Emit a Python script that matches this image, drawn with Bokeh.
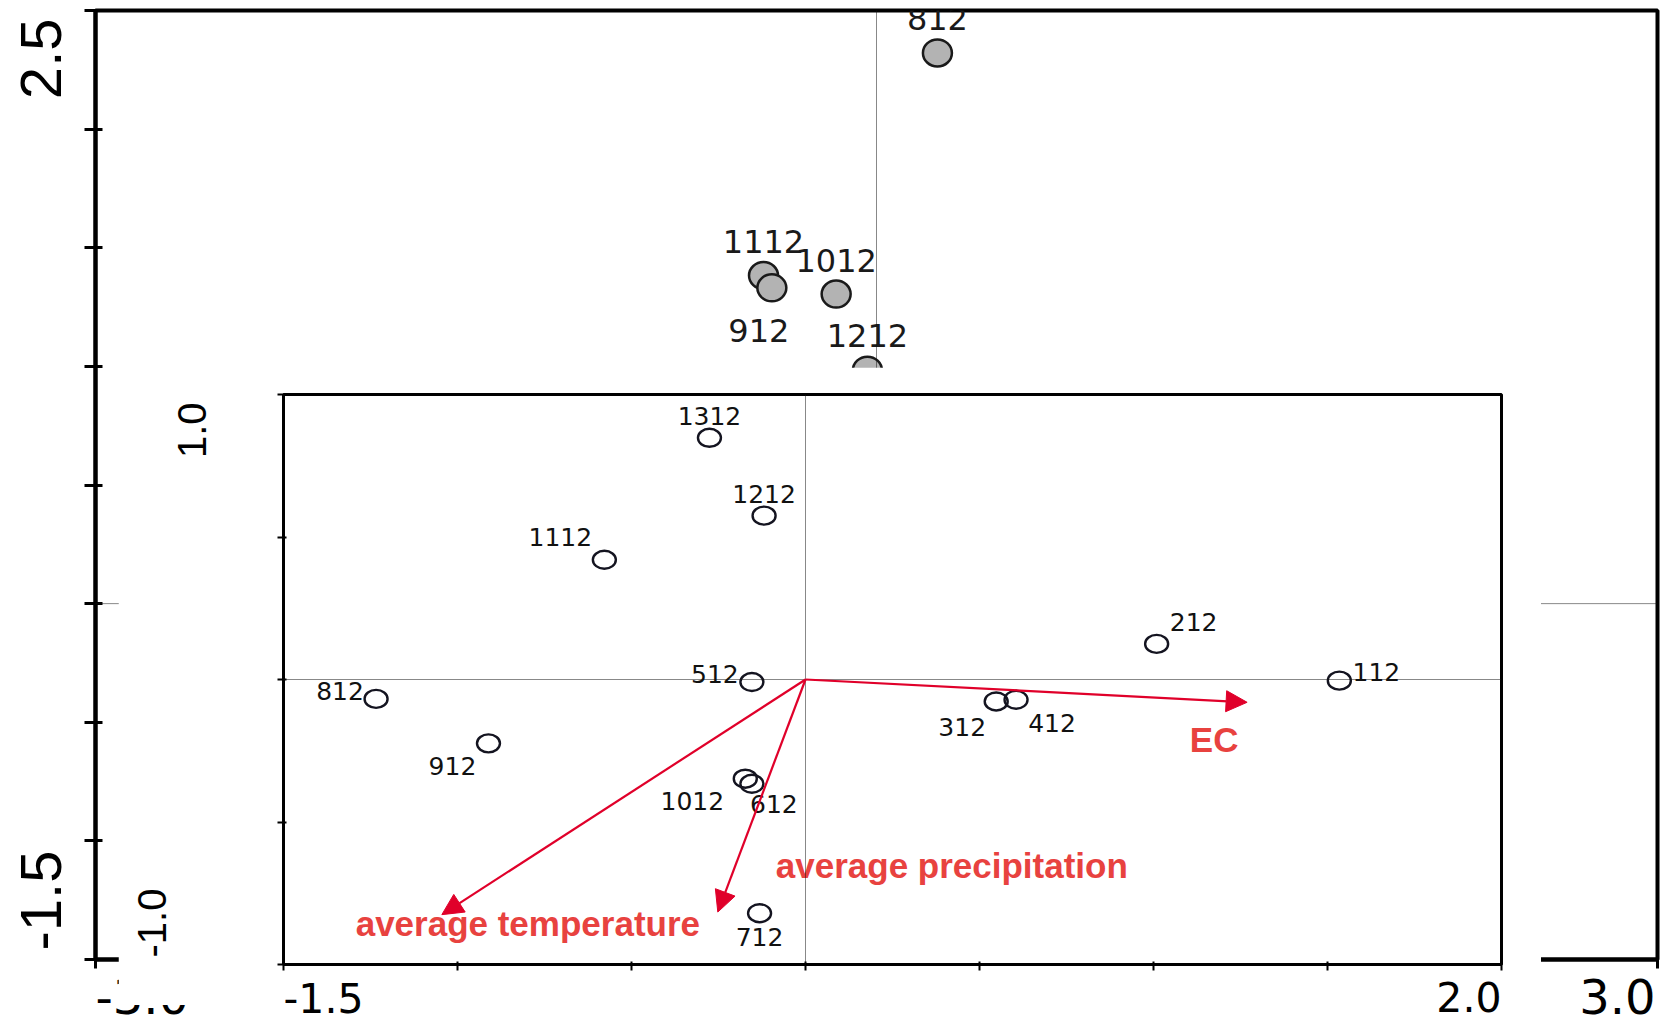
import math
from bokeh.plotting import figure
from bokeh.models import (Range1d, FixedTicker, Span, Arrow, NormalHead,
                          ColumnDataSource, CustomJSTickFormatter)
from bokeh.core.properties import value
from bokeh.embed import file_html
from bokeh.resources import INLINE

# ---------------- data: main ordination (filled symbols) ----------------
outer_labels = ["812", "1112", "912", "1012", "1212"]
outer_x = [0.234, -0.434, -0.402, -0.155, -0.035]
outer_y = [2.321, 1.383, 1.331, 1.305, 0.984]

outer_x_ticks = [-3.0, -2.5, -2.0, -1.5, -1.0, -0.5, 0.0, 0.5, 1.0, 1.5, 2.0, 2.5, 3.0]
outer_y_ticks = [-1.5, -1.0, -0.5, 0.0, 0.5, 1.0, 1.5, 2.0, 2.5]
outer_x_ticklabels = ["-3.0", "3.0"]
outer_y_ticklabels = ["-1.5", "2.5"]

# ---------------- data: inset ordination (open symbols + arrows) ----------------
inner_labels = ["112", "212", "312", "412", "512", "612", "712",
                "812", "912", "1012", "1112", "1212", "1312"]
inner_x = [1.534, 1.009, 0.548, 0.605, -0.154, -0.154, -0.132,
           -1.234, -0.911, -0.173, -0.578, -0.119, -0.276]
inner_y = [-0.004, 0.125, -0.077, -0.071, -0.009, -0.366, -0.820,
           -0.068, -0.224, -0.348, 0.420, 0.575, 0.848]

env_names = ["EC", "average temperature", "average precipitation"]
env_x = [1.269, -1.045, -0.252]
env_y = [-0.080, -0.825, -0.816]

inner_x_ticks = [-1.5, -1.0, -0.5, 0.0, 0.5, 1.0, 1.5, 2.0]
inner_y_ticks = [-1.0, -0.5, 0.0, 0.5, 1.0]
inner_x_ticklabels = ["-1.5", "2.0"]
inner_y_ticklabels = ["-1.0", "1.0"]

# ---------------- label placement (screen px, y down) ----------------
outer_dx = [0, 0, -13, 0, 0]
outer_dy = [-34, -34, 43, -34, -35]
inner_dx = [37, 37, -34, 36, -37, 22, 0, -36, -36, -53, -44, 0, 0]
inner_dy = [-9, -22, 26, 23, -8, 20, 24, -8, 23, 22, -23, -22, -22]
env_dx = [-33, 86, 234]
env_dy = [37, 9, -47]

# ---------------- geometry of the two panels (page pixels) ----------------
PAGE_W, PAGE_H = 1669, 1025
O_L, O_R, O_T, O_B = 95, 1657, 10, 959          # main frame edges
I_X0, I_Y0, I_W, I_H = 118, 367, 1423, 638      # inset (white box) placement
I_L, I_R, I_T, I_B = 165, 40, 27, 41            # inset borders around its frame

BLANK = CustomJSTickFormatter(code="return ''")
RED_ARROW = "#e0002a"
RED_TEXT = "#e8423f"
DOT = "#111111"


def style_axes(fig, ticks_x, ticks_y, lw, tw, t_in, t_out):
    fig.xaxis.ticker = FixedTicker(ticks=ticks_x)
    fig.yaxis.ticker = FixedTicker(ticks=ticks_y)
    for ax in (fig.xaxis[0], fig.yaxis[0]):
        ax.formatter = BLANK
        ax.axis_line_color = "black"
        ax.axis_line_width = lw
        ax.major_tick_line_color = "black"
        ax.major_tick_line_width = tw
        ax.major_tick_in = t_in
        ax.major_tick_out = t_out
        ax.minor_tick_line_color = None


def overlay(xr, yr, w, h, left, top):
    """transparent full-canvas figure sharing the data mapping of a panel"""
    f = figure(width=w, height=h, title=None, x_range=xr, y_range=yr,
               x_axis_type=None, y_axis_type=None, output_backend="svg",
               toolbar_location=None, min_border=0,
               styles={"position": "absolute", "left": f"{left}px", "top": f"{top}px"})
    f.outline_line_color = None
    f.background_fill_color = None
    f.border_fill_color = None
    return f


# ======================= main plot =======================
p = figure(width=PAGE_W, height=PAGE_H, title=None,
           x_range=Range1d(-3.0, 3.0), y_range=Range1d(-1.5, 2.5),
           output_backend="svg", toolbar_location=None,
           min_border_left=O_L, min_border_right=PAGE_W - O_R,
           min_border_top=O_T, min_border_bottom=PAGE_H - O_B,
           styles={"position": "absolute", "left": "0px", "top": "0px"})
p.grid.visible = False
p.outline_line_color = "black"
p.outline_line_width = 4
style_axes(p, outer_x_ticks, outer_y_ticks, 4, 3, 7, 11)
p.xaxis.major_tick_out = 9

p.add_layout(Span(location=0, dimension="height", line_color=DOT, line_width=1, line_dash="1 1"))
p.add_layout(Span(location=0, dimension="width", line_color=DOT, line_width=1, line_dash="1 1"))

osrc = ColumnDataSource(dict(x=outer_x, y=outer_y, t=outer_labels, dx=outer_dx, dy=outer_dy))
p.ellipse(x="x", y="y", width=29, height=27, width_units="screen", height_units="screen",
          fill_color="#b3b3b3", line_color="#1a1a1a", line_width=2.5, source=osrc)
p.text(x="x", y="y", text="t", x_offset="dx", y_offset="dy", source=osrc,
       text_align="center", text_baseline="middle",
       text_font=value("DejaVu Sans"), text_font_size="32px", text_color="#1a1a1a")

# end-of-axis labels of the main plot (overlay with the same data mapping)
kx = (O_R - O_L) / 6.0
ky = (O_B - O_T) / 4.0
pl = overlay(Range1d(-3.0 - O_L / kx, 3.0 + (PAGE_W - O_R) / kx),
             Range1d(-1.5 - (PAGE_H - O_B) / ky, 2.5 + O_T / ky),
             PAGE_W, PAGE_H, 0, 0)
pl.text(x=[-3.0], y=[outer_y_ticks[-1]], text=[outer_y_ticklabels[1]],
        x_offset=-55, y_offset=8, angle=math.pi / 2,
        text_align="right", text_baseline="middle",
        text_font=value("Liberation Sans"), text_font_size="58px", text_color="black")
pl.text(x=[-3.0], y=[outer_y_ticks[0]], text=[outer_y_ticklabels[0]],
        x_offset=-55, y_offset=-9, angle=math.pi / 2,
        text_align="left", text_baseline="middle",
        text_font=value("Liberation Sans"), text_font_size="58px", text_color="black")
pl.text(x=[outer_x_ticks[0]], y=[-1.5], text=[outer_x_ticklabels[0]],
        x_offset=0, y_offset=37, text_align="left", text_baseline="middle",
        text_font=value("DejaVu Sans"), text_font_size="48px", text_color="black")
pl.text(x=[outer_x_ticks[-1]], y=[-1.5], text=[outer_x_ticklabels[1]],
        x_offset=-2, y_offset=37, text_align="right", text_baseline="middle",
        text_font=value("DejaVu Sans"), text_font_size="48px", text_color="black")

# ======================= inset plot =======================
q = figure(width=I_W, height=I_H, title=None,
           x_range=Range1d(-1.5, 2.0), y_range=Range1d(-1.0, 1.0),
           output_backend="svg", toolbar_location=None,
           min_border_left=I_L, min_border_right=I_R, min_border_top=I_T, min_border_bottom=I_B,
           styles={"position": "absolute", "left": f"{I_X0}px", "top": f"{I_Y0}px"})
q.grid.visible = False
q.background_fill_color = "white"
q.border_fill_color = "white"
q.outline_line_color = "black"
q.outline_line_width = 3
style_axes(q, inner_x_ticks, inner_y_ticks, 3, 2, 3, 6)

q.add_layout(Span(location=0, dimension="height", line_color=DOT, line_width=1, line_dash="1 1"))
q.add_layout(Span(location=0, dimension="width", line_color=DOT, line_width=1, line_dash="1 1"))

isrc = ColumnDataSource(dict(x=inner_x, y=inner_y, t=inner_labels, dx=inner_dx, dy=inner_dy))
q.ellipse(x="x", y="y", width=23, height=18, width_units="screen", height_units="screen",
          fill_color=None, line_color="#141420", line_width=2.4, source=isrc)
q.text(x="x", y="y", text="t", x_offset="dx", y_offset="dy", source=isrc,
       text_align="center", text_baseline="middle",
       text_font=value("DejaVu Sans"), text_font_size="25px", text_color="#111111")

esrc = ColumnDataSource(dict(x0=[0.0] * len(env_x), y0=[0.0] * len(env_y),
                             x1=env_x, y1=env_y, t=env_names, dx=env_dx, dy=env_dy))
q.add_layout(Arrow(source=esrc, x_start="x0", y_start="y0", x_end="x1", y_end="y1",
                   line_color=RED_ARROW, line_width=2.2,
                   end=NormalHead(size=21, fill_color=RED_ARROW, line_color=RED_ARROW,
                                  line_width=1)))
q.text(x="x1", y="y1", text="t", x_offset="dx", y_offset="dy", source=esrc,
       text_align="center", text_baseline="middle",
       text_font=value("Liberation Sans"), text_font_style="bold",
       text_font_size="35px", text_color=RED_TEXT)

# end-of-axis labels of the inset (overlay with the same data mapping,
# reaching a little below the white box as in the original)
ikx = (I_W - I_L - I_R) / 3.5
iky = (I_H - I_T - I_B) / 2.0
QL_H = PAGE_H - I_Y0
ql = overlay(Range1d(-1.5 - I_L / ikx, 2.0 + I_R / ikx),
             Range1d(-1.0 - (QL_H - I_H + I_B) / iky, 1.0 + I_T / iky),
             I_W, QL_H, I_X0, I_Y0)
ql.text(x=[inner_x_ticks[0]], y=[-1.0], text=[inner_x_ticklabels[0]],
        x_offset=0, y_offset=33, text_align="left", text_baseline="middle",
        text_font=value("DejaVu Sans"), text_font_size="41px", text_color="black")
ql.text(x=[inner_x_ticks[-1]], y=[-1.0], text=[inner_x_ticklabels[1]],
        x_offset=0, y_offset=32, text_align="right", text_baseline="middle",
        text_font=value("DejaVu Sans"), text_font_size="41px", text_color="black")
ql.text(x=[-1.5], y=[inner_y_ticks[-1]], text=[inner_y_ticklabels[1]],
        x_offset=-92, y_offset=8, angle=math.pi / 2,
        text_align="right", text_baseline="middle",
        text_font=value("Liberation Sans"), text_font_size="40px", text_color="black")
ql.text(x=[-1.5], y=[inner_y_ticks[0]], text=[inner_y_ticklabels[0]],
        x_offset=-132, y_offset=-7, angle=math.pi / 2,
        text_align="left", text_baseline="middle",
        text_font=value("Liberation Sans"), text_font_size="40px", text_color="black")

open("out.html", "w").write(file_html([p, pl, q, ql], INLINE))
